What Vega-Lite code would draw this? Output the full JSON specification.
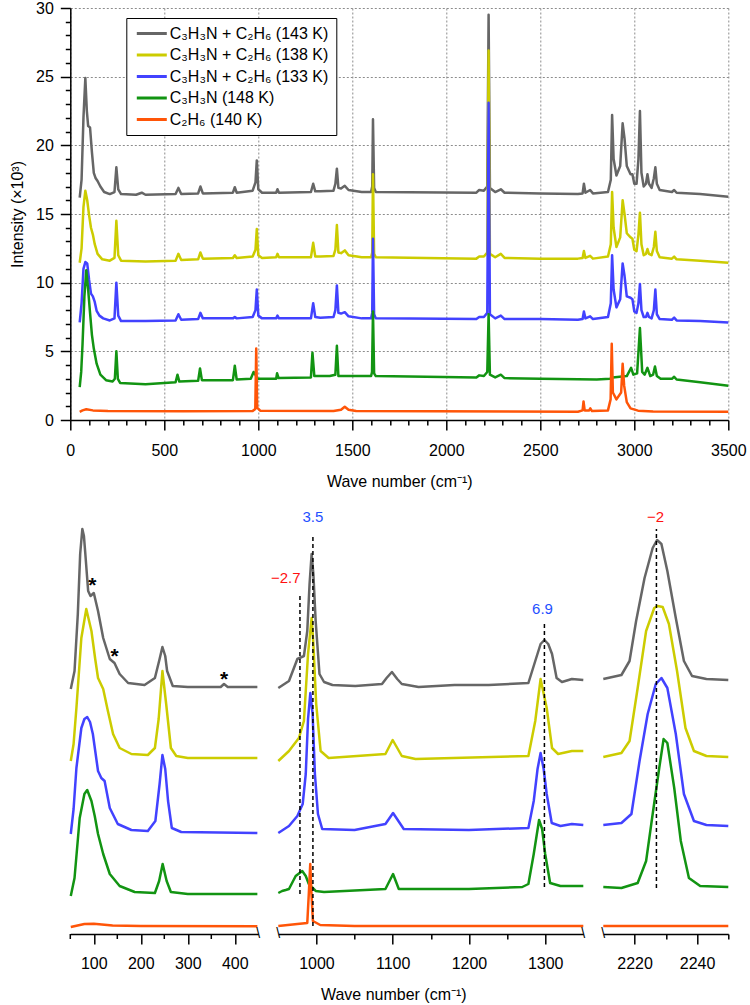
{
"$schema": "https://vega.github.io/schema/vega-lite/v6.json",
"background": "white",
"padding": {"left": 9.3, "top": 0, "right": 3, "bottom": 4},
"config": {
  "view": {"stroke": null},
  "font": "Liberation Sans",
  "axis": {"labelFont": "Liberation Sans", "titleFont": "Liberation Sans", "labelFontSize": 16, "titleFontSize": 16, "titleFontWeight": "normal", "labelColor": "black", "titleColor": "black", "domainColor": "black", "tickColor": "black", "domainWidth": 1.5, "tickWidth": 1.5, "format": "d", "labelFlush": false, "labelOverlap": false},
  "legend": {"labelFont": "Liberation Sans"},
  "text": {"font": "Liberation Sans"}
},
"datasets": {
"top": [
{"s":"a","x":50,"y":16.2},{"s":"a","x":60,"y":17.5},{"s":"a","x":70,"y":22},{"s":"a","x":80,"y":24.9},{"s":"a","x":88,"y":22.5},{"s":"a","x":95,"y":21.4},{"s":"a","x":105,"y":21.3},{"s":"a","x":115,"y":19.5},{"s":"a","x":125,"y":18},{"s":"a","x":135,"y":17.6},{"s":"a","x":145,"y":17.4},{"s":"a","x":160,"y":17},{"s":"a","x":180,"y":16.6},{"s":"a","x":210,"y":16.45},{"s":"a","x":235,"y":16.6},{"s":"a","x":245,"y":18.4},{"s":"a","x":255,"y":16.8},{"s":"a","x":270,"y":16.45},{"s":"a","x":350,"y":16.4},{"s":"a","x":380,"y":16.55},{"s":"a","x":400,"y":16.4},{"s":"a","x":560,"y":16.45},{"s":"a","x":575,"y":16.9},{"s":"a","x":590,"y":16.45},{"s":"a","x":680,"y":16.5},{"s":"a","x":692,"y":17.0},{"s":"a","x":705,"y":16.5},{"s":"a","x":865,"y":16.55},{"s":"a","x":875,"y":16.95},{"s":"a","x":885,"y":16.55},{"s":"a","x":970,"y":16.7},{"s":"a","x":985,"y":17.3},{"s":"a","x":992,"y":18.9},{"s":"a","x":1000,"y":16.8},{"s":"a","x":1020,"y":16.55},{"s":"a","x":1095,"y":16.55},{"s":"a","x":1102,"y":16.8},{"s":"a","x":1110,"y":16.55},{"s":"a","x":1280,"y":16.6},{"s":"a","x":1292,"y":17.2},{"s":"a","x":1303,"y":16.65},{"s":"a","x":1330,"y":16.65},{"s":"a","x":1400,"y":16.7},{"s":"a","x":1410,"y":17.2},{"s":"a","x":1418,"y":18.3},{"s":"a","x":1426,"y":16.9},{"s":"a","x":1440,"y":16.85},{"s":"a","x":1460,"y":17.05},{"s":"a","x":1480,"y":16.75},{"s":"a","x":1550,"y":16.6},{"s":"a","x":1600,"y":16.6},{"s":"a","x":1606,"y":17},{"s":"a","x":1610,"y":21.9},{"s":"a","x":1616,"y":16.9},{"s":"a","x":1625,"y":16.6},{"s":"a","x":2160,"y":16.55},{"s":"a","x":2175,"y":16.75},{"s":"a","x":2200,"y":16.7},{"s":"a","x":2218,"y":17},{"s":"a","x":2225,"y":29.5},{"s":"a","x":2232,"y":16.9},{"s":"a","x":2260,"y":16.6},{"s":"a","x":2290,"y":16.8},{"s":"a","x":2310,"y":16.55},{"s":"a","x":2500,"y":16.5},{"s":"a","x":2700,"y":16.45},{"s":"a","x":2725,"y":16.5},{"s":"a","x":2732,"y":17.2},{"s":"a","x":2740,"y":16.55},{"s":"a","x":2765,"y":16.75},{"s":"a","x":2780,"y":16.5},{"s":"a","x":2860,"y":16.6},{"s":"a","x":2875,"y":17.5},{"s":"a","x":2882,"y":22.2},{"s":"a","x":2890,"y":19},{"s":"a","x":2905,"y":17.8},{"s":"a","x":2925,"y":18.5},{"s":"a","x":2938,"y":21.6},{"s":"a","x":2948,"y":20.5},{"s":"a","x":2960,"y":18.5},{"s":"a","x":2980,"y":17.9},{"s":"a","x":2990,"y":17.9},{"s":"a","x":3000,"y":17.2},{"s":"a","x":3012,"y":17.2},{"s":"a","x":3022,"y":19},{"s":"a","x":3030,"y":22.5},{"s":"a","x":3038,"y":18},{"s":"a","x":3050,"y":17},{"s":"a","x":3062,"y":17.2},{"s":"a","x":3070,"y":17.9},{"s":"a","x":3078,"y":17.2},{"s":"a","x":3092,"y":16.9},{"s":"a","x":3104,"y":17.6},{"s":"a","x":3112,"y":18.4},{"s":"a","x":3120,"y":17.2},{"s":"a","x":3135,"y":16.75},{"s":"a","x":3200,"y":16.6},{"s":"a","x":3212,"y":16.75},{"s":"a","x":3225,"y":16.55},{"s":"a","x":3350,"y":16.45},{"s":"a","x":3500,"y":16.25},
{"s":"b","x":50,"y":11.45},{"s":"b","x":60,"y":12.5},{"s":"b","x":70,"y":15.5},{"s":"b","x":80,"y":16.7},{"s":"b","x":90,"y":16.0},{"s":"b","x":100,"y":14.9},{"s":"b","x":110,"y":14.0},{"s":"b","x":120,"y":13.5},{"s":"b","x":130,"y":12.8},{"s":"b","x":145,"y":12.1},{"s":"b","x":170,"y":11.7},{"s":"b","x":210,"y":11.6},{"s":"b","x":235,"y":11.8},{"s":"b","x":245,"y":14.5},{"s":"b","x":255,"y":12.0},{"s":"b","x":270,"y":11.6},{"s":"b","x":400,"y":11.55},{"s":"b","x":560,"y":11.6},{"s":"b","x":575,"y":12.1},{"s":"b","x":590,"y":11.65},{"s":"b","x":680,"y":11.7},{"s":"b","x":692,"y":12.2},{"s":"b","x":705,"y":11.75},{"s":"b","x":865,"y":11.8},{"s":"b","x":875,"y":12.0},{"s":"b","x":885,"y":11.8},{"s":"b","x":970,"y":11.9},{"s":"b","x":985,"y":12.4},{"s":"b","x":992,"y":13.9},{"s":"b","x":1000,"y":12.0},{"s":"b","x":1020,"y":11.8},{"s":"b","x":1095,"y":11.85},{"s":"b","x":1102,"y":12.1},{"s":"b","x":1110,"y":11.85},{"s":"b","x":1280,"y":11.85},{"s":"b","x":1292,"y":12.9},{"s":"b","x":1303,"y":11.9},{"s":"b","x":1330,"y":11.9},{"s":"b","x":1400,"y":11.95},{"s":"b","x":1410,"y":12.4},{"s":"b","x":1418,"y":14.2},{"s":"b","x":1426,"y":12.2},{"s":"b","x":1440,"y":12.15},{"s":"b","x":1460,"y":12.35},{"s":"b","x":1480,"y":12.0},{"s":"b","x":1550,"y":11.85},{"s":"b","x":1600,"y":11.85},{"s":"b","x":1606,"y":12.2},{"s":"b","x":1610,"y":17.9},{"s":"b","x":1616,"y":12.1},{"s":"b","x":1625,"y":11.85},{"s":"b","x":2160,"y":11.75},{"s":"b","x":2175,"y":11.9},{"s":"b","x":2200,"y":11.9},{"s":"b","x":2218,"y":12.2},{"s":"b","x":2225,"y":26.9},{"s":"b","x":2232,"y":12.1},{"s":"b","x":2260,"y":11.85},{"s":"b","x":2290,"y":12.1},{"s":"b","x":2310,"y":11.8},{"s":"b","x":2500,"y":11.75},{"s":"b","x":2700,"y":11.75},{"s":"b","x":2725,"y":11.8},{"s":"b","x":2732,"y":12.3},{"s":"b","x":2740,"y":11.8},{"s":"b","x":2765,"y":11.95},{"s":"b","x":2780,"y":11.75},{"s":"b","x":2860,"y":11.9},{"s":"b","x":2875,"y":12.8},{"s":"b","x":2882,"y":16.6},{"s":"b","x":2890,"y":14},{"s":"b","x":2905,"y":12.6},{"s":"b","x":2925,"y":13.3},{"s":"b","x":2938,"y":16.0},{"s":"b","x":2948,"y":15},{"s":"b","x":2960,"y":13.6},{"s":"b","x":2980,"y":13.3},{"s":"b","x":2990,"y":13.2},{"s":"b","x":3000,"y":12.4},{"s":"b","x":3012,"y":12.3},{"s":"b","x":3022,"y":13.5},{"s":"b","x":3030,"y":15.1},{"s":"b","x":3038,"y":12.8},{"s":"b","x":3050,"y":12.0},{"s":"b","x":3062,"y":12.1},{"s":"b","x":3070,"y":12.45},{"s":"b","x":3078,"y":12.1},{"s":"b","x":3092,"y":12.0},{"s":"b","x":3104,"y":12.6},{"s":"b","x":3112,"y":13.7},{"s":"b","x":3120,"y":12.3},{"s":"b","x":3135,"y":11.85},{"s":"b","x":3200,"y":11.75},{"s":"b","x":3212,"y":11.9},{"s":"b","x":3225,"y":11.7},{"s":"b","x":3350,"y":11.6},{"s":"b","x":3500,"y":11.45},
{"s":"c","x":50,"y":7.1},{"s":"c","x":60,"y":8.5},{"s":"c","x":70,"y":11.0},{"s":"c","x":80,"y":11.5},{"s":"c","x":90,"y":11.4},{"s":"c","x":100,"y":10.2},{"s":"c","x":110,"y":9.2},{"s":"c","x":120,"y":9.0},{"s":"c","x":130,"y":8.6},{"s":"c","x":140,"y":7.95},{"s":"c","x":155,"y":7.6},{"s":"c","x":175,"y":7.4},{"s":"c","x":210,"y":7.25},{"s":"c","x":235,"y":7.4},{"s":"c","x":245,"y":10.0},{"s":"c","x":255,"y":7.6},{"s":"c","x":270,"y":7.2},{"s":"c","x":400,"y":7.2},{"s":"c","x":560,"y":7.25},{"s":"c","x":575,"y":7.7},{"s":"c","x":590,"y":7.3},{"s":"c","x":680,"y":7.35},{"s":"c","x":692,"y":7.8},{"s":"c","x":705,"y":7.4},{"s":"c","x":865,"y":7.4},{"s":"c","x":875,"y":7.5},{"s":"c","x":885,"y":7.4},{"s":"c","x":970,"y":7.5},{"s":"c","x":985,"y":8.0},{"s":"c","x":992,"y":9.5},{"s":"c","x":1000,"y":7.6},{"s":"c","x":1020,"y":7.4},{"s":"c","x":1095,"y":7.4},{"s":"c","x":1102,"y":7.6},{"s":"c","x":1110,"y":7.4},{"s":"c","x":1280,"y":7.4},{"s":"c","x":1292,"y":8.5},{"s":"c","x":1303,"y":7.5},{"s":"c","x":1330,"y":7.45},{"s":"c","x":1400,"y":7.5},{"s":"c","x":1410,"y":8.0},{"s":"c","x":1418,"y":9.8},{"s":"c","x":1426,"y":7.8},{"s":"c","x":1440,"y":7.75},{"s":"c","x":1460,"y":7.85},{"s":"c","x":1480,"y":7.55},{"s":"c","x":1550,"y":7.4},{"s":"c","x":1600,"y":7.4},{"s":"c","x":1606,"y":7.8},{"s":"c","x":1610,"y":13.2},{"s":"c","x":1616,"y":7.7},{"s":"c","x":1625,"y":7.4},{"s":"c","x":2160,"y":7.35},{"s":"c","x":2175,"y":7.5},{"s":"c","x":2200,"y":7.5},{"s":"c","x":2218,"y":7.8},{"s":"c","x":2225,"y":23.1},{"s":"c","x":2232,"y":7.7},{"s":"c","x":2260,"y":7.4},{"s":"c","x":2290,"y":7.6},{"s":"c","x":2310,"y":7.35},{"s":"c","x":2500,"y":7.35},{"s":"c","x":2700,"y":7.3},{"s":"c","x":2725,"y":7.35},{"s":"c","x":2732,"y":7.9},{"s":"c","x":2740,"y":7.4},{"s":"c","x":2765,"y":7.55},{"s":"c","x":2780,"y":7.35},{"s":"c","x":2860,"y":7.5},{"s":"c","x":2875,"y":8.5},{"s":"c","x":2882,"y":12.0},{"s":"c","x":2890,"y":9.5},{"s":"c","x":2905,"y":8.2},{"s":"c","x":2925,"y":8.8},{"s":"c","x":2938,"y":11.4},{"s":"c","x":2948,"y":10.5},{"s":"c","x":2960,"y":9.0},{"s":"c","x":2980,"y":8.9},{"s":"c","x":2990,"y":8.8},{"s":"c","x":3000,"y":7.9},{"s":"c","x":3012,"y":7.8},{"s":"c","x":3022,"y":8.5},{"s":"c","x":3030,"y":9.9},{"s":"c","x":3038,"y":8.0},{"s":"c","x":3050,"y":7.5},{"s":"c","x":3062,"y":7.5},{"s":"c","x":3070,"y":7.8},{"s":"c","x":3078,"y":7.5},{"s":"c","x":3092,"y":7.4},{"s":"c","x":3104,"y":8.0},{"s":"c","x":3112,"y":9.5},{"s":"c","x":3120,"y":7.7},{"s":"c","x":3135,"y":7.35},{"s":"c","x":3200,"y":7.3},{"s":"c","x":3212,"y":7.45},{"s":"c","x":3225,"y":7.25},{"s":"c","x":3350,"y":7.2},{"s":"c","x":3500,"y":7.1},
{"s":"d","x":50,"y":2.4},{"s":"d","x":58,"y":3.5},{"s":"d","x":65,"y":5.5},{"s":"d","x":75,"y":9},{"s":"d","x":85,"y":10.9},{"s":"d","x":95,"y":9.5},{"s":"d","x":105,"y":7.8},{"s":"d","x":115,"y":6.2},{"s":"d","x":125,"y":5.2},{"s":"d","x":140,"y":4.1},{"s":"d","x":160,"y":3.3},{"s":"d","x":190,"y":2.9},{"s":"d","x":225,"y":2.8},{"s":"d","x":237,"y":3.0},{"s":"d","x":245,"y":5.0},{"s":"d","x":253,"y":3.0},{"s":"d","x":265,"y":2.7},{"s":"d","x":400,"y":2.6},{"s":"d","x":500,"y":2.7},{"s":"d","x":560,"y":2.75},{"s":"d","x":570,"y":3.3},{"s":"d","x":580,"y":2.8},{"s":"d","x":680,"y":2.85},{"s":"d","x":690,"y":3.75},{"s":"d","x":700,"y":2.9},{"s":"d","x":865,"y":2.9},{"s":"d","x":875,"y":3.95},{"s":"d","x":885,"y":2.95},{"s":"d","x":960,"y":3.0},{"s":"d","x":975,"y":3.5},{"s":"d","x":985,"y":3.3},{"s":"d","x":995,"y":3.0},{"s":"d","x":1095,"y":3.0},{"s":"d","x":1100,"y":3.4},{"s":"d","x":1108,"y":3.05},{"s":"d","x":1280,"y":3.1},{"s":"d","x":1288,"y":4.9},{"s":"d","x":1298,"y":3.2},{"s":"d","x":1380,"y":3.2},{"s":"d","x":1410,"y":3.3},{"s":"d","x":1418,"y":5.4},{"s":"d","x":1426,"y":3.2},{"s":"d","x":1600,"y":3.2},{"s":"d","x":1605,"y":3.5},{"s":"d","x":1610,"y":7.9},{"s":"d","x":1616,"y":3.4},{"s":"d","x":1625,"y":3.2},{"s":"d","x":2160,"y":3.1},{"s":"d","x":2175,"y":3.25},{"s":"d","x":2200,"y":3.2},{"s":"d","x":2218,"y":3.5},{"s":"d","x":2225,"y":7.7},{"s":"d","x":2232,"y":3.3},{"s":"d","x":2260,"y":3.1},{"s":"d","x":2290,"y":3.3},{"s":"d","x":2310,"y":3.05},{"s":"d","x":2500,"y":3.0},{"s":"d","x":2800,"y":2.95},{"s":"d","x":2870,"y":3.0},{"s":"d","x":2885,"y":3.1},{"s":"d","x":2960,"y":3.2},{"s":"d","x":2983,"y":3.8},{"s":"d","x":2995,"y":3.3},{"s":"d","x":3015,"y":3.4},{"s":"d","x":3030,"y":6.7},{"s":"d","x":3042,"y":3.5},{"s":"d","x":3055,"y":3.3},{"s":"d","x":3070,"y":3.8},{"s":"d","x":3085,"y":3.2},{"s":"d","x":3100,"y":3.3},{"s":"d","x":3110,"y":3.9},{"s":"d","x":3120,"y":3.2},{"s":"d","x":3140,"y":3.0},{"s":"d","x":3200,"y":3.0},{"s":"d","x":3212,"y":3.15},{"s":"d","x":3225,"y":2.95},{"s":"d","x":3350,"y":2.75},{"s":"d","x":3500,"y":2.5},
{"s":"e","x":50,"y":0.6},{"s":"e","x":65,"y":0.7},{"s":"e","x":85,"y":0.78},{"s":"e","x":120,"y":0.7},{"s":"e","x":200,"y":0.65},{"s":"e","x":600,"y":0.63},{"s":"e","x":970,"y":0.65},{"s":"e","x":984,"y":0.8},{"s":"e","x":989,"y":5.2},{"s":"e","x":994,"y":0.9},{"s":"e","x":1010,"y":0.68},{"s":"e","x":1400,"y":0.65},{"s":"e","x":1440,"y":0.75},{"s":"e","x":1460,"y":0.97},{"s":"e","x":1480,"y":0.75},{"s":"e","x":1520,"y":0.65},{"s":"e","x":2700,"y":0.6},{"s":"e","x":2725,"y":0.7},{"s":"e","x":2730,"y":1.35},{"s":"e","x":2736,"y":0.7},{"s":"e","x":2760,"y":0.7},{"s":"e","x":2766,"y":0.85},{"s":"e","x":2775,"y":0.65},{"s":"e","x":2860,"y":0.7},{"s":"e","x":2874,"y":1.5},{"s":"e","x":2880,"y":5.55},{"s":"e","x":2886,"y":2.0},{"s":"e","x":2905,"y":1.5},{"s":"e","x":2930,"y":2.0},{"s":"e","x":2938,"y":4.1},{"s":"e","x":2946,"y":2.5},{"s":"e","x":2960,"y":1.3},{"s":"e","x":2980,"y":0.85},{"s":"e","x":3020,"y":0.68},{"s":"e","x":3100,"y":0.62},{"s":"e","x":3500,"y":0.6}
],
"b1": [
{"s":"a","x":51,"v":245},{"s":"a","x":59,"v":263},{"s":"a","x":66,"v":320},{"s":"a","x":71,"v":380},{"s":"a","x":75.6,"v":405},{"s":"a","x":79,"v":398},{"s":"a","x":82,"v":380},{"s":"a","x":88,"v":343},{"s":"a","x":93,"v":338},{"s":"a","x":100,"v":341},{"s":"a","x":109,"v":323},{"s":"a","x":120,"v":296},{"s":"a","x":134,"v":275},{"s":"a","x":144,"v":271},{"s":"a","x":155,"v":260},{"s":"a","x":173,"v":251},{"s":"a","x":208,"v":249},{"s":"a","x":230,"v":256},{"s":"a","x":240,"v":275},{"s":"a","x":246,"v":287},{"s":"a","x":252,"v":278},{"s":"a","x":256,"v":263},{"s":"a","x":268,"v":248},{"s":"a","x":300,"v":247},{"s":"a","x":370,"v":247},{"s":"a","x":377,"v":250},{"s":"a","x":385,"v":247},{"s":"a","x":448,"v":247},
{"s":"b","x":51,"v":173},{"s":"b","x":57,"v":190},{"s":"b","x":63,"v":226},{"s":"b","x":73.5,"v":296},{"s":"b","x":84,"v":325},{"s":"b","x":95,"v":303},{"s":"b","x":103,"v":275},{"s":"b","x":109,"v":256},{"s":"b","x":120,"v":245},{"s":"b","x":130,"v":223},{"s":"b","x":141,"v":200},{"s":"b","x":155,"v":186},{"s":"b","x":180,"v":180},{"s":"b","x":215,"v":179},{"s":"b","x":230,"v":186},{"s":"b","x":238,"v":215},{"s":"b","x":246,"v":263},{"s":"b","x":254,"v":230},{"s":"b","x":264,"v":186},{"s":"b","x":275.5,"v":178},{"s":"b","x":300,"v":176},{"s":"b","x":448,"v":176},
{"s":"c","x":51,"v":100},{"s":"c","x":57,"v":125},{"s":"c","x":63,"v":166},{"s":"c","x":73.5,"v":206},{"s":"c","x":80,"v":215},{"s":"c","x":86,"v":217},{"s":"c","x":92,"v":212},{"s":"c","x":98,"v":200},{"s":"c","x":109,"v":163},{"s":"c","x":116,"v":156},{"s":"c","x":123,"v":153},{"s":"c","x":134,"v":126},{"s":"c","x":151,"v":110},{"s":"c","x":180,"v":104},{"s":"c","x":215,"v":103},{"s":"c","x":231,"v":113},{"s":"c","x":240,"v":150},{"s":"c","x":246,"v":179},{"s":"c","x":252,"v":165},{"s":"c","x":258,"v":133},{"s":"c","x":266,"v":106},{"s":"c","x":286,"v":102},{"s":"c","x":448,"v":101},
{"s":"d","x":51,"v":38},{"s":"d","x":59,"v":56},{"s":"d","x":70,"v":116},{"s":"d","x":80,"v":140},{"s":"d","x":86,"v":144},{"s":"d","x":95,"v":133},{"s":"d","x":102,"v":118},{"s":"d","x":109,"v":100},{"s":"d","x":120,"v":80},{"s":"d","x":134,"v":60},{"s":"d","x":155,"v":48},{"s":"d","x":187,"v":42},{"s":"d","x":230,"v":41},{"s":"d","x":239,"v":53},{"s":"d","x":246.5,"v":70},{"s":"d","x":255,"v":53},{"s":"d","x":264,"v":42},{"s":"d","x":300,"v":40},{"s":"d","x":448,"v":40},
{"s":"e","x":51,"v":7},{"s":"e","x":80,"v":10},{"s":"e","x":100,"v":10.3},{"s":"e","x":140,"v":8.5},{"s":"e","x":200,"v":8},{"s":"e","x":448,"v":7.7}
],
"b2": [
{"s":"a","x":950,"v":246},{"s":"a","x":964,"v":253},{"s":"a","x":975,"v":275},{"s":"a","x":983.6,"v":278},{"s":"a","x":988,"v":303},{"s":"a","x":991,"v":350},{"s":"a","x":993.7,"v":380},{"s":"a","x":996,"v":360},{"s":"a","x":999,"v":313},{"s":"a","x":1004,"v":260},{"s":"a","x":1010,"v":252},{"s":"a","x":1021,"v":249},{"s":"a","x":1051,"v":248},{"s":"a","x":1086,"v":250},{"s":"a","x":1092,"v":256},{"s":"a","x":1099,"v":262},{"s":"a","x":1106,"v":255},{"s":"a","x":1112,"v":250},{"s":"a","x":1134,"v":247},{"s":"a","x":1181,"v":249},{"s":"a","x":1226,"v":249},{"s":"a","x":1278,"v":251},{"s":"a","x":1287,"v":273},{"s":"a","x":1294,"v":290},{"s":"a","x":1299,"v":294},{"s":"a","x":1304,"v":290},{"s":"a","x":1309,"v":280},{"s":"a","x":1315,"v":256},{"s":"a","x":1322,"v":252},{"s":"a","x":1335,"v":255},{"s":"a","x":1350,"v":254},
{"s":"b","x":950,"v":173},{"s":"b","x":964,"v":183},{"s":"b","x":977,"v":196},{"s":"b","x":983.6,"v":213},{"s":"b","x":989,"v":280},{"s":"b","x":993.7,"v":316},{"s":"b","x":996,"v":290},{"s":"b","x":999.7,"v":230},{"s":"b","x":1005.5,"v":183},{"s":"b","x":1016,"v":176},{"s":"b","x":1090.5,"v":180},{"s":"b","x":1100,"v":194},{"s":"b","x":1112,"v":178},{"s":"b","x":1130,"v":175},{"s":"b","x":1278,"v":178},{"s":"b","x":1287,"v":213},{"s":"b","x":1294,"v":255},{"s":"b","x":1302,"v":226},{"s":"b","x":1309,"v":186},{"s":"b","x":1317,"v":180},{"s":"b","x":1335,"v":183},{"s":"b","x":1350,"v":183},
{"s":"c","x":950,"v":101},{"s":"c","x":964,"v":108},{"s":"c","x":975,"v":118},{"s":"c","x":982,"v":130},{"s":"c","x":986,"v":160},{"s":"c","x":989,"v":215},{"s":"c","x":992,"v":241},{"s":"c","x":995,"v":220},{"s":"c","x":998,"v":160},{"s":"c","x":1002,"v":120},{"s":"c","x":1007.6,"v":105},{"s":"c","x":1050,"v":104},{"s":"c","x":1090.5,"v":110},{"s":"c","x":1100.5,"v":121},{"s":"c","x":1114.5,"v":105},{"s":"c","x":1200,"v":104},{"s":"c","x":1278,"v":106},{"s":"c","x":1285,"v":133},{"s":"c","x":1290,"v":165},{"s":"c","x":1294,"v":181},{"s":"c","x":1298,"v":165},{"s":"c","x":1302,"v":140},{"s":"c","x":1308.6,"v":111},{"s":"c","x":1320,"v":108},{"s":"c","x":1335,"v":110},{"s":"c","x":1350,"v":109},
{"s":"d","x":950,"v":41},{"s":"d","x":955,"v":43},{"s":"d","x":959.7,"v":44},{"s":"d","x":964,"v":45},{"s":"d","x":972.8,"v":58},{"s":"d","x":981.4,"v":63},{"s":"d","x":986,"v":58},{"s":"d","x":990,"v":50},{"s":"d","x":999,"v":43},{"s":"d","x":1010,"v":42},{"s":"d","x":1090.5,"v":45},{"s":"d","x":1100.5,"v":60},{"s":"d","x":1108,"v":45},{"s":"d","x":1200,"v":45},{"s":"d","x":1270,"v":47},{"s":"d","x":1278,"v":50},{"s":"d","x":1285,"v":80},{"s":"d","x":1292,"v":114},{"s":"d","x":1296,"v":105},{"s":"d","x":1300,"v":80},{"s":"d","x":1306.5,"v":51},{"s":"d","x":1320,"v":48},{"s":"d","x":1350,"v":48},
{"s":"e","x":950,"v":8},{"s":"e","x":975,"v":10},{"s":"e","x":988,"v":11},{"s":"e","x":990,"v":40},{"s":"e","x":991.9,"v":70},{"s":"e","x":993.5,"v":40},{"s":"e","x":995.4,"v":13},{"s":"e","x":1005,"v":9},{"s":"e","x":1050,"v":8},{"s":"e","x":1350,"v":8}
],
"b3": [
{"s":"a","x":2210,"v":255},{"s":"a","x":2215.8,"v":259},{"s":"a","x":2218.4,"v":273},{"s":"a","x":2220.5,"v":313},{"s":"a","x":2223.2,"v":356},{"s":"a","x":2225.8,"v":386},{"s":"a","x":2227.2,"v":394},{"s":"a","x":2228.6,"v":390},{"s":"a","x":2230.5,"v":363},{"s":"a","x":2233.2,"v":316},{"s":"a","x":2235.8,"v":273},{"s":"a","x":2238.4,"v":258},{"s":"a","x":2243,"v":255},{"s":"a","x":2250,"v":254},
{"s":"b","x":2210,"v":177},{"s":"b","x":2215.8,"v":181},{"s":"b","x":2218.4,"v":193},{"s":"b","x":2221,"v":246},{"s":"b","x":2223.7,"v":303},{"s":"b","x":2226.3,"v":326},{"s":"b","x":2227.4,"v":328},{"s":"b","x":2229,"v":327},{"s":"b","x":2231,"v":310},{"s":"b","x":2233.6,"v":263},{"s":"b","x":2236.3,"v":206},{"s":"b","x":2239,"v":183},{"s":"b","x":2243,"v":178},{"s":"b","x":2250,"v":177},
{"s":"c","x":2210,"v":109},{"s":"c","x":2215.8,"v":111},{"s":"c","x":2219,"v":120},{"s":"c","x":2221.6,"v":173},{"s":"c","x":2224.2,"v":220},{"s":"c","x":2226.8,"v":250},{"s":"c","x":2228.6,"v":256},{"s":"c","x":2230.5,"v":246},{"s":"c","x":2233.2,"v":200},{"s":"c","x":2235.8,"v":140},{"s":"c","x":2239,"v":113},{"s":"c","x":2243,"v":109},{"s":"c","x":2250,"v":108},
{"s":"d","x":2210,"v":47},{"s":"d","x":2215.8,"v":46},{"s":"d","x":2221,"v":51},{"s":"d","x":2223.7,"v":73},{"s":"d","x":2225.8,"v":120},{"s":"d","x":2227.9,"v":166},{"s":"d","x":2229.3,"v":195},{"s":"d","x":2230.5,"v":191},{"s":"d","x":2232.7,"v":146},{"s":"d","x":2234.8,"v":93},{"s":"d","x":2237.4,"v":56},{"s":"d","x":2241,"v":48},{"s":"d","x":2250,"v":47},
{"s":"e","x":2210,"v":8},{"s":"e","x":2250,"v":8}
],
"ast": [{"x":97,"v":342,"t":"*"},{"x":144,"v":271,"t":"*"},{"x":377,"v":248,"t":"*"}],
"minor1": [{"x":50,"v1":0,"v2":-5},{"x":150,"v1":0,"v2":-5},{"x":250,"v1":0,"v2":-5},{"x":350,"v1":0,"v2":-5}],
"rules2": [{"x":978.4,"v1":40,"v2":338},{"x":995.4,"v1":8,"v2":400},{"x":1299,"v1":47,"v2":311}],
"rules3": [{"x":2227,"v1":46,"v2":405}],
"red2": [{"x":959.7,"v":356,"t":"−2.7"}],
"blue2": [{"x":995.4,"v":417,"t":"3.5"},{"x":1296.5,"v":325,"t":"6.9"}],
"red3": [{"x":2226.7,"v":417,"t":"−2"}],
"brk1": [{"x":450,"v":0,"t":"\\"}],
"brk2": [{"x":950,"v":0,"t":"\\"},{"x":1350,"v":0,"t":"\\"}],
"brk3": [{"x":2210,"v":0,"t":"\\"}]
},
"bounds": "flush",
"spacing": 103,
"vconcat": [
{
  "width": 658, "height": 412,
  "data": {"name": "top"},
  "mark": {"type": "line", "strokeWidth": 2.5, "strokeJoin": "round"},
  "encoding": {
    "x": {"field": "x", "type": "quantitative",
      "scale": {"domain": [0, 3500], "nice": false, "zero": false},
      "axis": {"title": "Wave number (cm⁻¹)", "values": [0,100,200,300,400,500,600,700,800,900,1000,1100,1200,1300,1400,1500,1600,1700,1800,1900,2000,2100,2200,2300,2400,2500,2600,2700,2800,2900,3000,3100,3200,3300,3400,3500],
        "labelExpr": "datum.value % 500 === 0 ? datum.label : ''", "labelOverlap": false,
        "tickSize": {"condition": {"test": "datum.value % 500 === 0", "value": 10}, "value": 5},
        "labelPadding": 12,
        "grid": true, "gridColor": "#8c8c8c", "gridDash": [2, 2], "gridWidth": 1,
        "gridOpacity": {"condition": {"test": "datum.value % 500 === 0", "value": 1}, "value": 0},
        "titleY": 66, "titleBaseline": "alphabetic"}},
    "y": {"field": "y", "type": "quantitative",
      "scale": {"domain": [0, 30], "nice": false},
      "axis": {"title": "Intensity (×10³)", "values": [0,1,2,3,4,5,6,7,8,9,10,11,12,13,14,15,16,17,18,19,20,21,22,23,24,25,26,27,28,29,30],
        "labelExpr": "datum.value % 5 === 0 ? datum.label : ''", "labelOverlap": false,
        "tickSize": {"condition": {"test": "datum.value % 5 === 0", "value": 10}, "value": 5},
        "labelPadding": 7,
        "grid": true, "gridColor": "#8c8c8c", "gridDash": [2, 2], "gridWidth": 1,
        "gridOpacity": {"condition": {"test": "datum.value % 5 === 0", "value": 1}, "value": 0},
        "titleX": -48, "titleY": 206, "titleBaseline": "alphabetic"}},
    "color": {"field": "s", "type": "nominal",
      "scale": {"domain": ["a","b","c","d","e"], "range": ["#666666","#cccc00","#4242ff","#129412","#ff5508"]},
      "legend": {"orient": "none", "legendX": 56, "legendY": 10, "title": null, "strokeColor": "black", "fillColor": "white", "padding": 7.5, "symbolType": "M-1,0H5", "symbolStrokeWidth": 3, "symbolSize": 100, "labelFontSize": 16, "labelOffset": 20, "rowPadding": 5.5, "labelColor": "black",
        "labelExpr": "{'a':'C₃H₃N + C₂H₆ (143 K)','b':'C₃H₃N + C₂H₆ (138 K)','c':'C₃H₃N + C₂H₆ (133 K)','d':'C₃H₃N (148 K)','e':'C₂H₆ (140 K)'}[datum.label]"}}
  }
},
{
  "bounds": "flush",
  "spacing": 20,
  "hconcat": [
    {
      "width": 188, "height": 411,
      "layer": [
        {"data": {"name": "b1"}, "mark": {"type": "line", "strokeWidth": 2.5, "strokeJoin": "round"},
         "encoding": {
           "x": {"field": "x", "type": "quantitative", "scale": {"domain": [50, 450], "nice": false, "zero": false},
             "axis": {"title": null, "values": [100,200,300,400], "tickSize": 10, "labelPadding": 12, "labelFontSize": 16, "labelFont": "Liberation Sans", "grid": false, "labelOverlap": false}},
           "y": {"field": "v", "type": "quantitative", "scale": {"domain": [0, 411], "nice": false}, "axis": null},
           "color": {"field": "s", "type": "nominal", "scale": {"domain": ["a","b","c","d","e"], "range": ["#666666","#cccc00","#1446ff","#129412","#ff5508"]}, "legend": null}}},
        {"data": {"name": "minor1"}, "mark": {"type": "rule", "strokeWidth": 1.5, "color": "black"},
         "encoding": {"x": {"field": "x", "type": "quantitative"}, "y": {"field": "v1", "type": "quantitative"}, "y2": {"field": "v2"}}},
        {"data": {"name": "ast"}, "mark": {"type": "text", "fontSize": 21, "fontWeight": "bold", "baseline": "alphabetic", "align": "center", "color": "black"},
         "encoding": {"x": {"field": "x", "type": "quantitative"}, "y": {"field": "v", "type": "quantitative"}, "text": {"field": "t"}}},
        {"data": {"name": "brk1"}, "mark": {"type": "text", "fontSize": 14, "baseline": "middle", "align": "center", "color": "black"},
         "encoding": {"x": {"field": "x", "type": "quantitative"}, "y": {"field": "v", "type": "quantitative"}, "text": {"field": "t"}}}
      ]
    },
    {
      "width": 305, "height": 411,
      "layer": [
        {"data": {"name": "b2"}, "mark": {"type": "line", "strokeWidth": 2.5, "strokeJoin": "round"},
         "encoding": {
           "x": {"field": "x", "type": "quantitative", "scale": {"domain": [950, 1350], "nice": false, "zero": false},
             "axis": {"title": "Wave number (cm⁻¹)", "titleX": 115, "titleY": 66, "titleBaseline": "alphabetic", "values": [1000,1050,1100,1150,1200,1250,1300], "labelExpr": "datum.value % 100 === 0 ? datum.label : ''", "labelOverlap": false, "tickSize": {"condition": {"test": "datum.value % 100 === 0", "value": 10}, "value": 5}, "labelPadding": 12, "grid": false}},
           "y": {"field": "v", "type": "quantitative", "scale": {"domain": [0, 411], "nice": false}, "axis": null},
           "color": {"field": "s", "type": "nominal", "scale": {"domain": ["a","b","c","d","e"], "range": ["#666666","#cccc00","#1446ff","#129412","#ff5508"]}, "legend": null}}},
        {"data": {"name": "rules2"}, "mark": {"type": "rule", "strokeDash": [4, 3], "strokeWidth": 1.5, "color": "black"},
         "encoding": {"x": {"field": "x", "type": "quantitative", "scale": {"domain": [950, 1350], "nice": false, "zero": false}}, "y": {"field": "v1", "type": "quantitative", "scale": {"domain": [0, 411], "nice": false}}, "y2": {"field": "v2"}}},
        {"data": {"name": "red2"}, "mark": {"type": "text", "fontSize": 15, "baseline": "middle", "align": "center", "color": "#ff1010"},
         "encoding": {"x": {"field": "x", "type": "quantitative", "scale": {"domain": [950, 1350], "nice": false, "zero": false}}, "y": {"field": "v", "type": "quantitative", "scale": {"domain": [0, 411], "nice": false}}, "text": {"field": "t"}}},
        {"data": {"name": "blue2"}, "mark": {"type": "text", "fontSize": 15, "baseline": "middle", "align": "center", "color": "#1f50ff"},
         "encoding": {"x": {"field": "x", "type": "quantitative", "scale": {"domain": [950, 1350], "nice": false, "zero": false}}, "y": {"field": "v", "type": "quantitative", "scale": {"domain": [0, 411], "nice": false}}, "text": {"field": "t"}}},
        {"data": {"name": "brk2"}, "mark": {"type": "text", "fontSize": 14, "baseline": "middle", "align": "center", "color": "black"},
         "encoding": {"x": {"field": "x", "type": "quantitative", "scale": {"domain": [950, 1350], "nice": false, "zero": false}}, "y": {"field": "v", "type": "quantitative", "scale": {"domain": [0, 411], "nice": false}}, "text": {"field": "t"}}}
      ]
    },
    {
      "width": 125, "height": 411,
      "layer": [
        {"data": {"name": "b3"}, "mark": {"type": "line", "strokeWidth": 2.5, "strokeJoin": "round"},
         "encoding": {
           "x": {"field": "x", "type": "quantitative", "scale": {"domain": [2210, 2250], "nice": false, "zero": false},
             "axis": {"title": null, "values": [2220,2230,2240,2250], "labelExpr": "datum.value % 20 === 0 ? datum.label : ''", "labelOverlap": false, "tickSize": {"condition": {"test": "datum.value % 20 === 0", "value": 10}, "value": 5}, "labelPadding": 12, "grid": false}},
           "y": {"field": "v", "type": "quantitative", "scale": {"domain": [0, 411], "nice": false}, "axis": null},
           "color": {"field": "s", "type": "nominal", "scale": {"domain": ["a","b","c","d","e"], "range": ["#666666","#cccc00","#1446ff","#129412","#ff5508"]}, "legend": null}}},
        {"data": {"name": "rules3"}, "mark": {"type": "rule", "strokeDash": [4, 3], "strokeWidth": 1.5, "color": "black"},
         "encoding": {"x": {"field": "x", "type": "quantitative", "scale": {"domain": [2210, 2250], "nice": false, "zero": false}}, "y": {"field": "v1", "type": "quantitative", "scale": {"domain": [0, 411], "nice": false}}, "y2": {"field": "v2"}}},
        {"data": {"name": "red3"}, "mark": {"type": "text", "fontSize": 15, "baseline": "middle", "align": "center", "color": "#ff1010"},
         "encoding": {"x": {"field": "x", "type": "quantitative", "scale": {"domain": [2210, 2250], "nice": false, "zero": false}}, "y": {"field": "v", "type": "quantitative", "scale": {"domain": [0, 411], "nice": false}}, "text": {"field": "t"}}},
        {"data": {"name": "brk3"}, "mark": {"type": "text", "fontSize": 14, "baseline": "middle", "align": "center", "color": "black"},
         "encoding": {"x": {"field": "x", "type": "quantitative", "scale": {"domain": [2210, 2250], "nice": false, "zero": false}}, "y": {"field": "v", "type": "quantitative", "scale": {"domain": [0, 411], "nice": false}}, "text": {"field": "t"}}}
      ]
    }
  ]
}
]
}
